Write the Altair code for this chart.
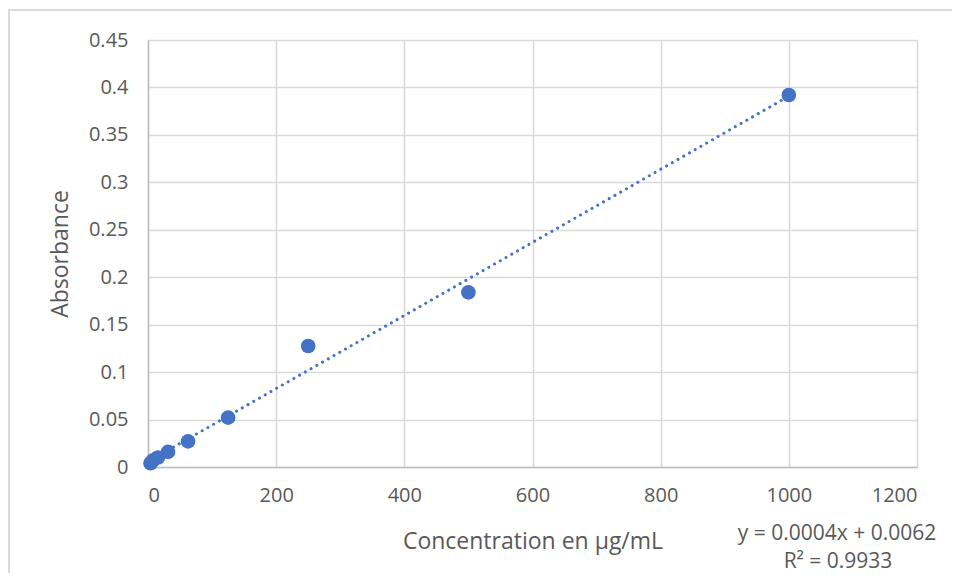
import altair as alt
import pandas as pd

conc = [3.9, 7.8, 15.6, 31.25, 62.5, 125, 250, 500, 1000]
absorb = [0.004, 0.007, 0.010, 0.016, 0.027, 0.052, 0.1275, 0.184, 0.392]
x_ticks = [0, 200, 400, 600, 800, 1000, 1200]
y_ticks = [0, 0.05, 0.1, 0.15, 0.2, 0.25, 0.3, 0.35, 0.4, 0.45]
eq_lines = ["y = 0.0004x + 0.0062", "R² = 0.9933"]

df = pd.DataFrame({"conc": conc, "abs": absorb})

FONT = "Open Sans"
GRAY = "#595959"
BLUE = "#4472C4"

xscale = alt.Scale(domain=[0, 1200], nice=False)
yscale = alt.Scale(domain=[0, 0.45], nice=False)

xaxis = alt.Axis(values=x_ticks, title="Concentration en µg/mL", grid=True,
                 ticks=False, labelPadding=18, titlePadding=25,
                 format="d")
yaxis = alt.Axis(values=y_ticks, title="Absorbance", grid=True, ticks=False,
                 labelPadding=20, titlePadding=16, format=".2~f")

base = alt.Chart(df)

points = base.mark_circle(size=215, color=BLUE, opacity=1).encode(
    x=alt.X("conc:Q", scale=xscale, axis=xaxis),
    y=alt.Y("abs:Q", scale=yscale, axis=yaxis),
)

trend = base.transform_regression("conc", "abs", method="linear").mark_line(
    color=BLUE, strokeWidth=3, strokeDash=[0.1, 6.5], strokeCap="round"
).encode(
    x=alt.X("conc:Q", scale=xscale, axis=xaxis),
    y=alt.Y("abs:Q", scale=yscale, axis=yaxis),
)

eq1 = alt.Chart(pd.DataFrame({"t": [eq_lines[0]]})).mark_text(
    font=FONT, fontSize=21, color=GRAY, align="center", baseline="middle"
).encode(text="t:N", x=alt.value(689), y=alt.value(494))
eq2 = alt.Chart(pd.DataFrame({"t": [eq_lines[1]]})).mark_text(
    font=FONT, fontSize=21, color=GRAY, align="center", baseline="middle"
).encode(text="t:N", x=alt.value(690), y=alt.value(522))

frame_top = alt.Chart(pd.DataFrame({"a": [0]})).mark_rule(
    color="#d9d9d9", strokeWidth=2).encode(
    x=alt.value(-140), x2=alt.value(810), y=alt.value(-30))
frame_left = alt.Chart(pd.DataFrame({"a": [0]})).mark_rule(
    color="#d9d9d9", strokeWidth=2).encode(
    x=alt.value(-139), y=alt.value(-30), y2=alt.value(545))

chart = alt.layer(trend, points, frame_top, frame_left, eq1, eq2).properties(
    width=769, height=427,
    background="white",
    autosize=alt.AutoSizeParams(type="none"),
    padding={"left": 140, "top": 32, "right": 35, "bottom": 106},
).configure_view(stroke=None).configure_axis(
    gridColor="#d9d9d9", gridWidth=1.6, domainColor="#bfbfbf", domainWidth=1.5,
    labelFont=FONT, labelFontSize=20, labelColor=GRAY,
    titleFont=FONT, titleFontSize=23, titleColor=GRAY, titleFontWeight="normal",
)

chart.save("out.html", embed_options={"renderer": "svg", "actions": False})
